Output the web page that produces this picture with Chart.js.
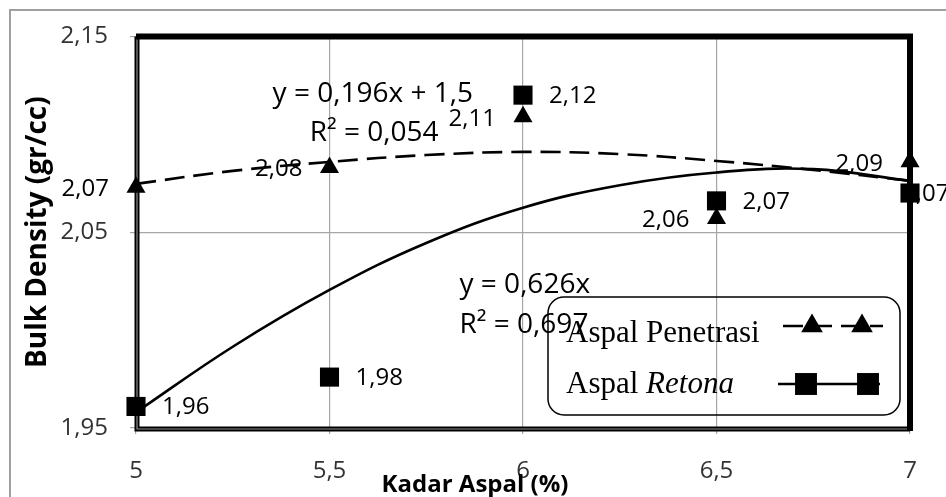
<!DOCTYPE html>
<html><head><meta charset="utf-8">
<script src="https://cdn.jsdelivr.net/npm/chart.js@4.4.1/dist/chart.umd.min.js"></script>
<style>html,body{margin:0;padding:0;background:#fff}#wrap{width:946px;height:497px;position:relative}</style>
</head><body><div id="wrap"><canvas id="c"></canvas></div>
<script>
// ---- data ----
const kadarAspal = [5, 5.5, 6, 6.5, 7];
const aspalPenetrasi = [2.073, 2.083, 2.109, 2.057, 2.086];
const aspalRetona = [1.961, 1.976, 2.120, 2.066, 2.070];
// trend-line curves as drawn in the picture
const trendX = [5, 5.25, 5.5, 5.75, 6, 6.25, 6.5, 6.75, 7];
const trendPenetrasi = [2.0747, 2.0813, 2.0859, 2.0894, 2.0910, 2.0899, 2.0864, 2.0818, 2.0762];
const trendRetona = [1.9580, 1.9915, 2.0205, 2.0445, 2.0625, 2.0740, 2.0805, 2.0822, 2.0762];
const xTicks = [5, 5.5, 6, 6.5, 7];
const yTicks = [1.95, 2.05, 2.15];
const seriesNames = ['Aspal Penetrasi', 'Aspal Retona'];
const italicWords = [[], ['Retona']];
const eqPenetrasi = ['y = 0,196x + 1,5', 'R² = 0,054'];
const eqRetona = ['y = 0,626x', 'R² = 0,697'];
const xTitle = 'Kadar Aspal (%)';
const yTitle = 'Bulk Density (gr/cc)';

// ---- presentation ----
const SANS = '"Open Sans", "Noto Sans", sans-serif';
const SERIF = '"Liberation Serif", "Times New Roman", serif';
const fmt = v => (Math.round(v * 100) / 100).toFixed(2).replace('.', ',');
const tickFmt = v => String(+v.toFixed(2)).replace('.', ',');
const retonaLabelDx = [26, 26, 26, 26, -8];
const penLabelDx = -27;
// equation anchors in data units (x, y)
const eqPenAnchor = [[5.353, 2.1205], [5.449, 2.1006]];
const eqRetAnchor = [[5.836, 2.0228], [5.836, 2.0024]];

const toXY = (xs, ys) => xs.map((x, i) => ({x, y: ys[i]}));

function drawMarker(ctx, style, x, y, r) {
  ctx.beginPath();
  if (style === 'triangle') {
    ctx.moveTo(x, y - r);
    ctx.lineTo(x + Math.sin(2*Math.PI/3) * r, y + r/2);
    ctx.lineTo(x - Math.sin(2*Math.PI/3) * r, y + r/2);
    ctx.closePath();
  } else {
    const s = Math.SQRT1_2 * r;
    ctx.rect(x - s, y - s, 2*s, 2*s);
  }
  ctx.fill();
}

const deco = {
  id: 'deco',
  beforeDraw(chart) {
    const ctx = chart.ctx;
    ctx.save();
    ctx.fillStyle = '#fff';
    ctx.fillRect(0, 0, chart.width, chart.height);
    ctx.strokeStyle = '#a0a0a0';
    ctx.lineWidth = 2;
    ctx.beginPath();
    ctx.moveTo(10, chart.height); ctx.lineTo(10, 10); ctx.lineTo(chart.width, 10);
    ctx.stroke();
    ctx.restore();
  },
  beforeDatasetsDraw(chart) {
    const {ctx, chartArea: a, scales} = chart;
    ctx.save();
    // plot frame
    ctx.strokeStyle = '#000';
    ctx.lineWidth = 6;
    ctx.beginPath();
    ctx.moveTo(a.left, a.top); ctx.lineTo(a.right, a.top); ctx.lineTo(a.right, a.bottom + 3);
    ctx.stroke();
    ctx.lineWidth = 5;
    ctx.beginPath();
    ctx.moveTo(a.left + 1, a.top); ctx.lineTo(a.left + 1, a.bottom + 1); ctx.lineTo(a.right, a.bottom + 1);
    ctx.stroke();
    ctx.strokeStyle = '#8c8c8c';
    ctx.lineWidth = 1.2;
    ctx.beginPath();
    ctx.moveTo(a.left + 1, a.top + 3); ctx.lineTo(a.left + 1, a.bottom + 1); ctx.lineTo(a.right - 3, a.bottom + 1);
    ctx.stroke();
    // data labels
    ctx.fillStyle = '#000';
    ctx.font = '24px ' + SANS;
    ctx.textBaseline = 'middle';
    ctx.textAlign = 'right';
    kadarAspal.forEach((x, i) => {
      ctx.fillText(fmt(aspalPenetrasi[i]), scales.x.getPixelForValue(x) + penLabelDx,
        scales.y.getPixelForValue(aspalPenetrasi[i]) + 2);
    });
    ctx.textAlign = 'left';
    kadarAspal.forEach((x, i) => {
      ctx.fillText(fmt(aspalRetona[i]), scales.x.getPixelForValue(x) + retonaLabelDx[i],
        scales.y.getPixelForValue(aspalRetona[i]) + 1);
    });
    ctx.restore();
  },
  afterDatasetsDraw(chart) {
    const {ctx, scales} = chart;
    ctx.save();
    ctx.fillStyle = '#000';
    ctx.font = '28px ' + SANS;
    ctx.textBaseline = 'middle';
    ctx.textAlign = 'left';
    eqPenetrasi.forEach((t, i) => ctx.fillText(t, scales.x.getPixelForValue(eqPenAnchor[i][0]), scales.y.getPixelForValue(eqPenAnchor[i][1])));
    eqRetona.forEach((t, i) => ctx.fillText(t, scales.x.getPixelForValue(eqRetAnchor[i][0]), scales.y.getPixelForValue(eqRetAnchor[i][1])));
    ctx.restore();
  },
  afterDraw(chart) {
    const {ctx, chartArea: a} = chart;
    ctx.save();
    // legend box
    const L = a.right - 362, R = a.right - 10, T = a.bottom - 131, B = a.bottom - 13;
    ctx.strokeStyle = '#000';
    ctx.lineWidth = 1.5;
    ctx.beginPath();
    ctx.roundRect(L, T, R - L, B - T, 16);
    ctx.stroke();
    const rows = [
      {base: T + 45, lineY: T + 29, ds: chart.data.datasets[0], trend: chart.data.datasets[2], x0: L + 235, x1: L + 335, m: [L + 264, L + 314], r: 12.5},
      {base: T + 96, lineY: T + 87, ds: chart.data.datasets[1], trend: chart.data.datasets[3], x0: L + 230, x1: L + 332, m: [L + 258, L + 320], r: 15.5}
    ];
    rows.forEach((row, i) => {
      let x = L + 18;
      ctx.fillStyle = '#000';
      ctx.textBaseline = 'alphabetic';
      ctx.textAlign = 'left';
      const words = row.ds.label.split(' ');
      words.forEach((w, k) => {
        const it = italicWords[i].includes(w);
        ctx.font = (it ? 'italic ' : '') + '31px ' + SERIF;
        const s = w + (k < words.length - 1 ? ' ' : '');
        ctx.fillText(s, x, row.base);
        x += ctx.measureText(s).width;
      });
      ctx.strokeStyle = '#000';
      ctx.lineWidth = 2.5;
      ctx.setLineDash(row.trend.borderDash || []);
      ctx.beginPath();
      ctx.moveTo(row.x0, row.lineY); ctx.lineTo(row.x1, row.lineY);
      ctx.stroke();
      ctx.setLineDash([]);
      row.m.forEach(mx => drawMarker(ctx, row.ds.pointStyle, mx, row.lineY, row.r));
    });
    // x axis title
    ctx.fillStyle = '#000';
    ctx.font = 'bold 24px ' + SANS;
    ctx.textAlign = 'center';
    ctx.textBaseline = 'middle';
    ctx.fillText(xTitle, a.left + 339, a.bottom + 57);
    ctx.restore();
  }
};

new Chart(document.getElementById('c'), {
  type: 'scatter',
  data: {
    datasets: [
      {label: seriesNames[0], data: toXY(kadarAspal, aspalPenetrasi), pointStyle: 'triangle',
       pointRadius: 11, pointHoverRadius: 11, backgroundColor: '#000', borderColor: '#000', borderWidth: 0, clip: false},
      {label: seriesNames[1], data: toXY(kadarAspal, aspalRetona), pointStyle: 'rect',
       pointRadius: 13.5, pointHoverRadius: 13.5, backgroundColor: '#000', borderColor: '#000', borderWidth: 0, clip: false},
      {label: 'Trend ' + seriesNames[0], data: toXY(trendX, trendPenetrasi), showLine: true, pointRadius: 0,
       borderColor: '#000', borderWidth: 2.6, borderDash: [20, 9], tension: 0.4, fill: false, clip: false},
      {label: 'Trend ' + seriesNames[1], data: toXY(trendX, trendRetona), showLine: true, pointRadius: 0,
       borderColor: '#000', borderWidth: 2.6, tension: 0.4, fill: false, clip: false}
    ]
  },
  options: {
    responsive: true,
    maintainAspectRatio: false,
    animation: false,
    layout: {padding: {top: 35, right: 36, bottom: 0, left: 0}},
    plugins: {legend: {display: false}, tooltip: {enabled: false}},
    scales: {
      x: {
        type: 'linear', min: 5, max: 7,
        afterFit: s => { s.height = 69; },
        afterBuildTicks: s => { s.ticks = xTicks.map(v => ({value: v})); },
        border: {display: false},
        grid: {color: '#a6a6a6', lineWidth: 1.2, tickLength: 6, tickColor: '#a6a6a6'},
        ticks: {padding: 23, color: '#333', font: {family: SANS, size: 24}, callback: v => tickFmt(v), maxRotation: 0}
      },
      y: {
        type: 'linear', min: 1.95, max: 2.15,
        afterFit: s => { s.width = 136; },
        afterBuildTicks: s => { s.ticks = yTicks.map(v => ({value: v})); },
        border: {display: false},
        grid: {color: '#a6a6a6', lineWidth: 1.2, tickLength: 6, tickColor: '#a6a6a6'},
        ticks: {padding: 22, color: '#333', font: {family: SANS, size: 24}, callback: v => tickFmt(v)},
        title: {display: true, text: yTitle, color: '#000', font: {family: SANS, size: 28, weight: 'bold'}, padding: {top: 21, bottom: 0}}
      }
    }
  },
  plugins: [deco]
});
</script></body></html>
